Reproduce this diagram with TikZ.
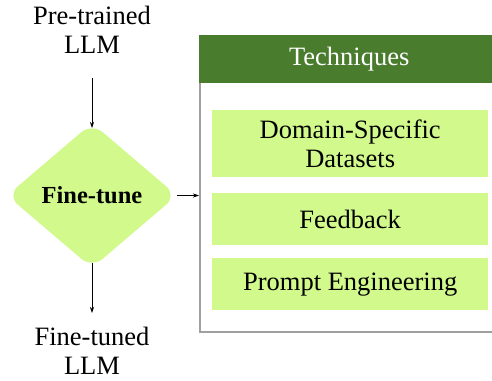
\documentclass[tikz,border=0pt]{standalone}
\usepackage{fontspec}
\setmainfont{Liberation Serif}
\usetikzlibrary{shapes.geometric,arrows.meta}
\definecolor{lgreen}{HTML}{D2F98C}
\definecolor{dgreen}{HTML}{4A7C2E}
\definecolor{bordergray}{HTML}{A0A0A0}
\newcommand{\bigtxt}{\rmfamily\fontsize{26.5}{29}\selectfont}
\tikzset{
  lbl/.style={align=center,font=\bigtxt,inner sep=0pt},
  arr/.style={-{Stealth[length=6pt,width=4pt]},line width=0.8pt},
  techitem/.style={fill=lgreen,minimum width=276pt,inner sep=0pt,align=center,font=\bigtxt},
}
\begin{document}
\begin{tikzpicture}[x=1pt,y=-1pt]
\useasboundingbox (0,0) rectangle (492,380);
\clip (0,0) rectangle (492,380);
% outer box
\node[draw=bordergray,line width=2pt,fill=white,minimum width=300pt,minimum height=296pt,inner sep=0pt,anchor=north west] (tech) at (199,35) {};
\node[fill=dgreen,minimum width=300pt,minimum height=48pt,inner sep=0pt,anchor=north west,text=white,font=\bigtxt] (head) at (199,35) {Techniques};
\node[techitem,minimum height=67pt,anchor=north west] (ds) at (212,110) {Domain-Specific\\Datasets};
\node[techitem,minimum height=52pt,anchor=north west] (fb) at (212,193) {Feedback};
\node[techitem,minimum height=52pt,anchor=north west] (pe) at (212,258) {Prompt Engineering};
% left column
\node[lbl] (pre) at (92,30) {Pre-trained\\LLM};
\node[diamond,fill=lgreen,rounded corners=14pt,minimum width=170pt,minimum height=145pt,inner sep=0pt,font=\rmfamily\bfseries\fontsize{24.5}{28}\selectfont] (ft) at (92,195.5) {Fine-tune};
\node[lbl] (post) at (92,351) {Fine-tuned\\LLM};
\coordinate (ftin) at (92,78);
\coordinate (ftout) at (92,313);
\draw[arr] (ftin) -- (92,128);
\draw[arr] (92,263) -- (ftout);
\draw[arr] (ft.east) -- (ft.east -| tech.west);
\end{tikzpicture}
\end{document}
